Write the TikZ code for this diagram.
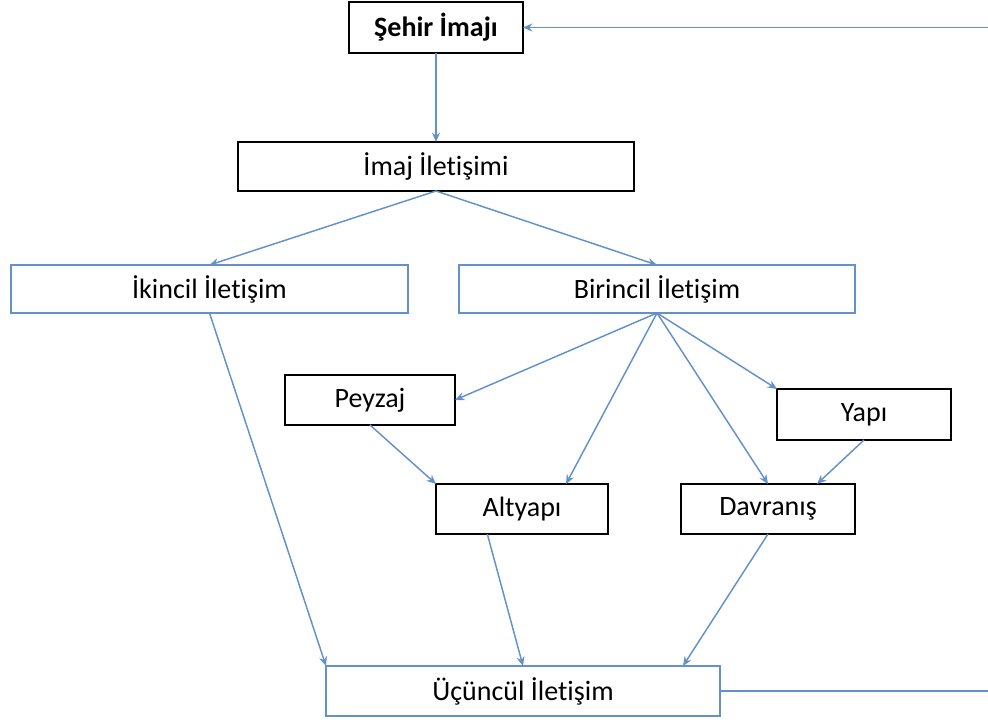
\documentclass[tikz,border=0pt]{standalone}
\usepackage{fontspec}
\setmainfont{Carlito}[RawFeature={-liga;-clig;-calt;-dlig}]
\usepackage{tikz}
\usetikzlibrary{arrows.meta}
\definecolor{linkblue}{RGB}{98,146,201}

\begin{document}
\begin{tikzpicture}[x=0.75pt,y=-0.75pt,
	blackbox/.style={draw=black,line width=1.3pt,inner sep=0pt,outer sep=0pt,font=\fontsize{21}{24}\selectfont},
	bluebox/.style={draw=linkblue,line width=1.1pt,inner sep=0pt,outer sep=0pt,font=\fontsize{21}{24}\selectfont},
	link/.style={draw=linkblue,line width=1.1pt,-{Stealth[length=7pt,width=6pt]}}]
	\useasboundingbox (0,0) rectangle (988,723);
	\node[blackbox,minimum width=130.5pt,minimum height=38.25pt,font=\fontsize{21}{24}\selectfont\bfseries] (shehir) at (436,27.5) {Şehir İmajı};
	\node[blackbox,minimum width=297pt,minimum height=36.75pt] (imaj) at (436,166.5) {İmaj İletişimi};
	\node[bluebox,minimum width=297.75pt,minimum height=36pt] (ikincil) at (209.5,289) {İkincil İletişim};
	\node[bluebox,minimum width=297pt,minimum height=36pt] (birincil) at (657,289) {Birincil İletişim};
	\node[blackbox,minimum width=127.5pt,minimum height=37.5pt] (peyzaj) at (370,400) {Peyzaj};
	\node[blackbox,minimum width=130.5pt,minimum height=38.25pt] (yapi) at (864,414.5) {Yapı};
	\node[blackbox,minimum width=129pt,minimum height=37.5pt] (altyapi) at (522,509) {Altyapı};
	\node[blackbox,minimum width=130.5pt,minimum height=37.5pt] (davranis) at (768,509) {Davranış};
	\node[bluebox,minimum width=295.5pt,minimum height=37.5pt] (ucuncul) at (523,691) {Üçüncül İletişim};
	\coordinate (topend) at (988,27.5);
	\coordinate (botend) at (988,691);
	%
	\draw [link] (topend) -- (shehir);
	\draw [link] (shehir.south) -- (imaj.north);
	\draw [link] (imaj.south) -- (ikincil.north);
	\draw [link] (imaj.south) -- (birincil.north);
	\draw [link] (birincil.south) -- (peyzaj.east);
	\draw [link] (birincil.south) -- ([xshift=33pt]altyapi.north);
	\draw [link] (birincil.south) -- (davranis.north);
	\draw [link] (birincil.south) -- (yapi.north west);
	\draw [link] (peyzaj.south) -- (altyapi.north west);
	\draw [link] (yapi.south) -- ([xshift=36.75pt]davranis.north);
	\draw [link] (ikincil.south) -- (ucuncul.north west);
	\draw [link] ([xshift=-26pt]altyapi.south) -- (ucuncul.north);
	\draw [link] (davranis.south) -- ([xshift=120pt]ucuncul.north);
	\draw [draw=linkblue,line width=1.1pt] (ucuncul.east) -- (botend);
\end{tikzpicture}
\end{document}
